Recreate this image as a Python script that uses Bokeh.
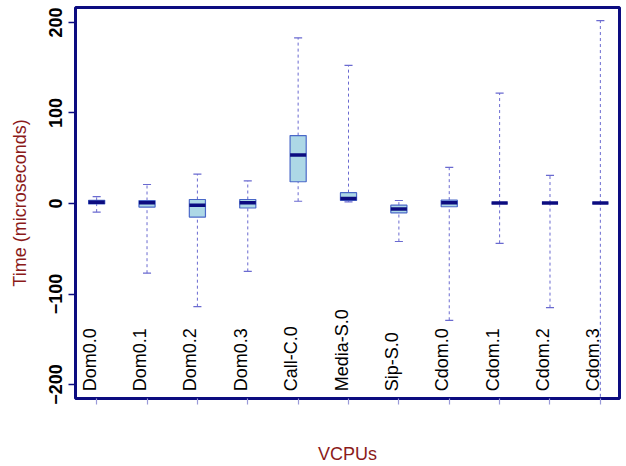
import math
from bokeh.plotting import figure
from bokeh.models import FixedTicker, Range1d, ColumnDataSource
from bokeh.core.properties import value
from bokeh.embed import file_html
from bokeh.resources import INLINE

# ---- data ----
categories = ["Dom0.0", "Dom0.1", "Dom0.2", "Dom0.3", "Call-C.0", "Media-S.0",
              "Sip-S.0", "Cdom.0", "Cdom.1", "Cdom.2", "Cdom.3"]
whisker_low = [-9.5, -77, -114, -75, 2.5, 1.8, -42, -129, -44, -115, -240]
q1 = [-0.5, -4, -15, -5, 24, 3.3, -10.3, -3.6, 0.5, 0.5, 0.5]
median = [1.5, 0.7, -1.9, 0.7, 53.5, 5.5, -6, 0.7, 0.5, 0.5, 0.5]
q3 = [3.5, 3.3, 4.4, 4.4, 75, 12, -1.8, 3.7, 0.5, 0.5, 0.5]
whisker_high = [7.5, 21, 32.5, 25, 183, 152.5, 3.3, 40, 122, 31, 202]
y_ticks = [-200, -100, 0, 100, 200]

xs = list(range(1, len(categories) + 1))
BOXW = 0.32
CAPW = 0.16

src = ColumnDataSource(dict(
    x=xs, cat=categories, lo=whisker_low, q1=q1, med=median, q3=q3, hi=whisker_high,
    bl=[x - BOXW / 2 for x in xs], br=[x + BOXW / 2 for x in xs],
    cl=[x - CAPW / 2 for x in xs], cr=[x + CAPW / 2 for x in xs],
    label_y=[-207.5] * len(xs),
))

NAVY = "#0c0c80"
WHISK = "#6a6ad0"
DARKRED = "#8b1a1a"
FONT = "Liberation Sans"

p = figure(width=626, height=466, output_backend="svg", toolbar_location=None,
           x_range=Range1d(0.58, 11.38), y_range=Range1d(-215.4, 216.5),
           min_border_left=75, min_border_right=7, min_border_top=7,
           min_border_bottom=66)
p.grid.visible = False
p.outline_line_color = NAVY
p.outline_line_width = 3
p.background_fill_color = "white"
p.border_fill_color = "white"

# whiskers (dashed)
p.segment(x0="x", y0="q3", x1="x", y1="hi", source=src, line_color=WHISK,
          line_width=1, line_dash="3 3")
p.segment(x0="x", y0="lo", x1="x", y1="q1", source=src, line_color=WHISK,
          line_width=1, line_dash="3 3")
# caps
p.segment(x0="cl", y0="hi", x1="cr", y1="hi", source=src, line_color=WHISK, line_width=1.2)
p.segment(x0="cl", y0="lo", x1="cr", y1="lo", source=src, line_color=WHISK, line_width=1.2)
# boxes
p.quad(left="bl", right="br", bottom="q1", top="q3", source=src,
       fill_color="#add8e6", line_color="#4a68c8", line_width=1.2)
# medians
p.segment(x0="bl", y0="med", x1="br", y1="med", source=src, line_color=NAVY,
          line_width=3.5)

# category labels inside the plot
p.text(x="x", y="label_y", text="cat", source=src, angle=math.pi / 2,
       text_align="left", text_baseline="alphabetic", x_offset=-7,
       text_font=value(FONT), text_font_size="18px", text_color="black")

# y axis
ya = p.yaxis[0]
ya.ticker = FixedTicker(ticks=y_ticks)
ya.major_label_orientation = "vertical"
ya.major_label_text_font = FONT
ya.major_label_text_font_style = "bold"
ya.major_label_text_font_size = "18px"
ya.major_label_text_color = "black"
ya.major_tick_in = 0
ya.major_tick_out = 7
ya.major_tick_line_color = NAVY
ya.major_tick_line_width = 1.5
ya.minor_tick_line_color = None
ya.axis_line_color = None
ya.major_label_standoff = 6
ya.axis_label = "Time (microseconds)"
ya.axis_label_text_font = FONT
ya.axis_label_text_font_style = "normal"
ya.axis_label_text_font_size = "18px"
ya.axis_label_text_color = DARKRED
ya.axis_label_standoff = 17

# x axis
xa = p.xaxis[0]
xa.ticker = FixedTicker(ticks=xs)
xa.major_label_overrides = {x: "" for x in xs}
xa.major_label_text_font_size = "1px"
xa.major_tick_in = 0
xa.major_tick_out = 6
xa.major_tick_line_color = "#9a9ad8"
xa.major_tick_line_width = 1.2
xa.minor_tick_line_color = None
xa.axis_line_color = None
xa.axis_label = "VCPUs"
xa.axis_label_text_font = FONT
xa.axis_label_text_font_style = "normal"
xa.axis_label_text_font_size = "18px"
xa.axis_label_text_color = DARKRED
xa.axis_label_standoff = 39

open("out.html", "w").write(file_html(p, INLINE))
